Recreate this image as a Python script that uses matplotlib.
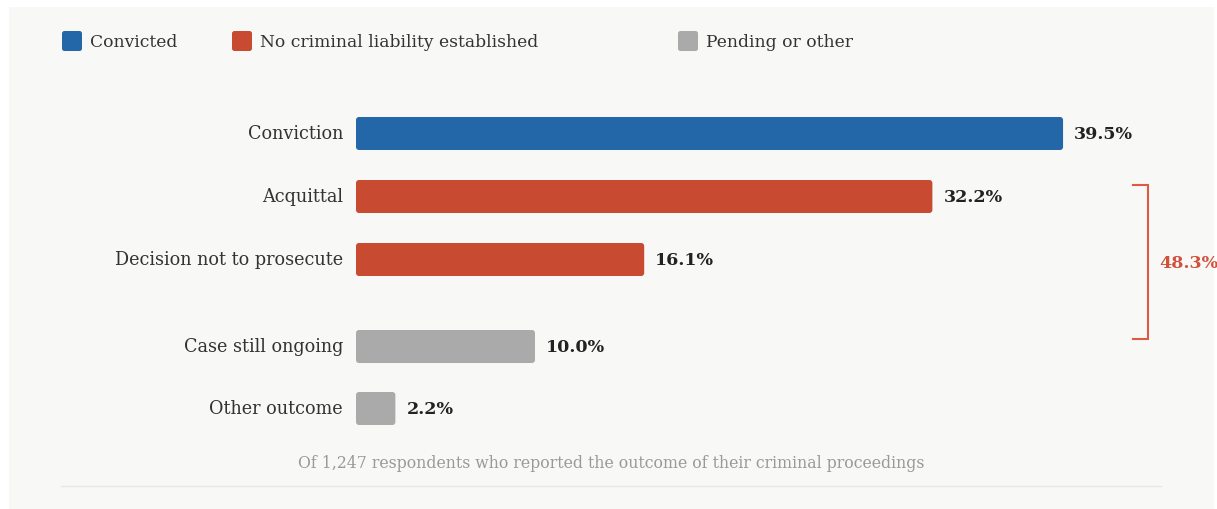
import matplotlib.pyplot as plt
from matplotlib.patches import FancyBboxPatch, Rectangle

# outcome shares (% of respondents)
categories = ['Conviction', 'Acquittal', 'Decision not to prosecute',
              'Case still ongoing', 'Other outcome']
shares = [39.5, 32.2, 16.1, 10.0, 2.2]
groups = ['convicted', 'no_liability', 'no_liability', 'pending', 'pending']

legend_keys = ['convicted', 'no_liability', 'pending']
legend_labels = ['Convicted', 'No criminal liability established', 'Pending or other']
footnote = 'Of 1,247 respondents who reported the outcome of their criminal proceedings'

colors = {'convicted': '#2367a8', 'no_liability': '#c84b31', 'pending': '#aaaaaa'}
bracket_color = '#de5a45'

plt.rcParams['font.family'] = ['DejaVu Serif']

W, H = 1217, 510
fig = plt.figure(figsize=(W / 100, H / 100), dpi=100)
fig.patch.set_facecolor('white')

# background layer in pixel coordinates
deco = fig.add_axes([0, 0, 1, 1])
deco.set_xlim(0, W)
deco.set_ylim(H, 0)
deco.axis('off')
deco.add_patch(Rectangle((9, 8), 1205, 502, facecolor='#f8f8f7', edgecolor='none'))

# legend row
for key, label, x0 in zip(legend_keys, legend_labels, [62, 232, 678]):
    deco.add_patch(FancyBboxPatch((x0, 32), 20, 20,
                                  boxstyle='round,pad=0,rounding_size=2.5',
                                  facecolor=colors[key], edgecolor='none'))
    deco.text(x0 + 28, 42.5, label, ha='left', va='center', fontsize=12.35, color='#333333')

# bar axes: x in percent, y in pixels
px_per_pct = 17.9
x0_px = 356
ax = fig.add_axes([0, 0, 1, 1])
ax.patch.set_visible(False)
ax.axis('off')
ax.set_xlim(-x0_px / px_per_pct, (W - x0_px) / px_per_pct)
ax.set_ylim(H, 0)

bar_y = [134.5, 197.5, 260.5, 347.5, 409.5]
bars = ax.barh(bar_y, shares, height=33, color=[colors[g] for g in groups])

# swap plain rectangles for slightly rounded ones
for rect in bars:
    x, y = rect.get_x(), rect.get_y()
    w, h = rect.get_width(), rect.get_height()
    rounded = FancyBboxPatch((x, y), w, h,
                             boxstyle='round,pad=0,rounding_size=%.4f' % (3 / px_per_pct),
                             mutation_aspect=px_per_pct,
                             facecolor=rect.get_facecolor(), edgecolor='none')
    rect.remove()
    ax.add_patch(rounded)

for cat, val, y in zip(categories, shares, bar_y):
    ax.annotate(cat, (0, y), xytext=(-9.4, 0), textcoords='offset points',
                ha='right', va='center', fontsize=12.7, color='#333333')
    ax.annotate(f'{val:.1f}%', (val, y), xytext=(8, 0), textcoords='offset points',
                ha='left', va='center', fontsize=12.6, fontweight='bold', color='#222222')

# bracket over the "no criminal liability" outcomes
no_liab_total = sum(v for v, g in zip(shares, groups) if g == 'no_liability')
deco.plot([1133, 1148, 1148, 1133], [186, 186, 340, 340],
          color=bracket_color, lw=1.5, solid_joinstyle='miter')
deco.text(1159, 264, f'{no_liab_total:.1f}%', ha='left', va='center',
          fontsize=12.6, fontweight='bold', color='#d0513c')

deco.text(611, 464, footnote, ha='center', va='center', fontsize=11.35, color='#999999')
deco.plot([61, 1161], [487, 487], color='#e8e8e8', lw=1)

fig.savefig('out.png', dpi=100)
